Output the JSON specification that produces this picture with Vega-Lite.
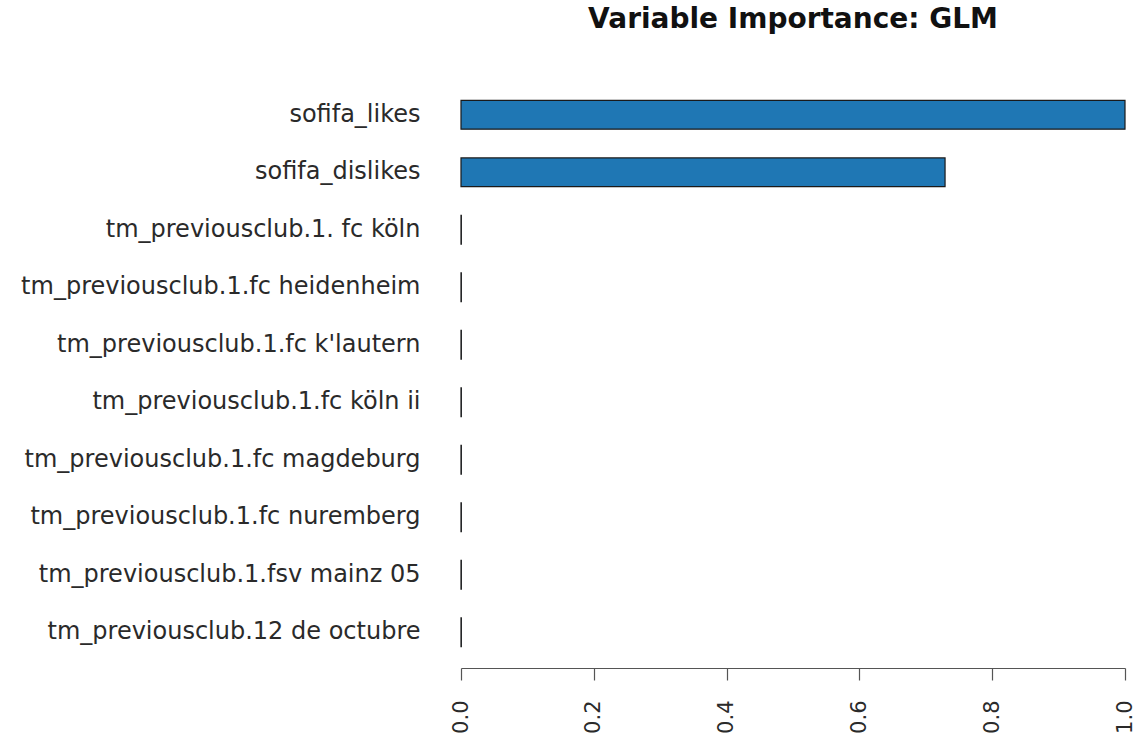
{
  "$schema": "https://vega.github.io/schema/vega-lite/v6.json",
  "autosize": "none",
  "width": 664,
  "height": 575,
  "padding": {"left": 461, "top": 86, "right": 19, "bottom": 74},
  "background": "white",
  "title": {
    "text": "Variable Importance: GLM",
    "font": "DejaVu Sans",
    "fontSize": 28,
    "fontWeight": "bold",
    "color": "#111111",
    "anchor": "middle",
    "baseline": "alphabetic",
    "offset": 30
  },
  "data": {
    "values": [
      {"variable": "sofifa_likes", "importance": 1.0},
      {"variable": "sofifa_dislikes", "importance": 0.729},
      {"variable": "tm_previousclub.1. fc köln", "importance": 0.0005},
      {"variable": "tm_previousclub.1.fc heidenheim", "importance": 0.0005},
      {"variable": "tm_previousclub.1.fc k'lautern", "importance": 0.0005},
      {"variable": "tm_previousclub.1.fc köln ii", "importance": 0.0005},
      {"variable": "tm_previousclub.1.fc magdeburg", "importance": 0.0005},
      {"variable": "tm_previousclub.1.fc nuremberg", "importance": 0.0005},
      {"variable": "tm_previousclub.1.fsv mainz 05", "importance": 0.0005},
      {"variable": "tm_previousclub.12 de octubre", "importance": 0.0005}
    ]
  },
  "mark": {"type": "bar", "color": "#1F77B4", "stroke": "#1a1a1a", "strokeWidth": 1.2, "cornerRadius": 0},
  "encoding": {
    "y": {
      "field": "variable",
      "type": "nominal",
      "sort": null,
      "title": null,
      "scale": {"paddingInner": 0.5, "paddingOuter": 0.25},
      "axis": {
        "domain": false,
        "ticks": false,
        "labelPadding": 41,
        "labelFont": "DejaVu Sans",
        "labelFontSize": 24,
        "labelColor": "#2a2a2a",
        "labelLimit": 600
      }
    },
    "x": {
      "field": "importance",
      "type": "quantitative",
      "title": null,
      "scale": {"domain": [0, 1], "nice": false, "zero": true},
      "axis": {
        "values": [0, 0.2, 0.4, 0.6, 0.8, 1.0],
        "format": ".1f",
        "grid": false,
        "offset": 7,
        "domainColor": "#555555",
        "tickColor": "#555555",
        "domainWidth": 1.2,
        "tickWidth": 1.2,
        "tickSize": 12,
        "labelAngle": -90,
        "labelPadding": 20,
        "labelFont": "DejaVu Sans",
        "labelFontSize": 21,
        "labelColor": "#2a2a2a"
      }
    }
  },
  "config": {"view": {"stroke": null}}
}
